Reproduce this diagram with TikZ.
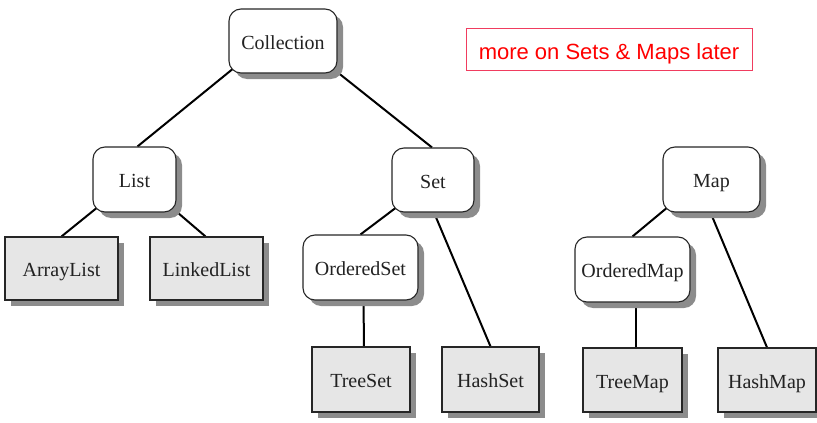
\documentclass[tikz,border=0pt]{standalone}
\usepackage{fontspec}
\setmainfont{Liberation Serif}
\newfontfamily\arialfont{Liberation Sans}
\usetikzlibrary{shadows,backgrounds}
\definecolor{shadowgray}{HTML}{8C8C8C}
\definecolor{boxgray}{HTML}{E6E6E6}
\definecolor{txtgray}{HTML}{222222}
\definecolor{notered}{rgb}{1,0,0}
\definecolor{noteborder}{RGB}{240,60,95}
\begin{document}
\begin{tikzpicture}[x=1pt,y=-1pt,
  base/.style={draw=black!85, line width=1.1pt, inner sep=0pt, text=txtgray,
    font=\fontsize{20}{22}\selectfont, text height=18pt, text depth=2pt,
    drop shadow={shadow xshift=6pt, shadow yshift=-6pt, fill=shadowgray, opacity=1}},
  iface/.style={base, fill=white, rounded corners=12pt},
  cls/.style={base, fill=boxgray},
  conn/.style={line width=2pt, black}]
\useasboundingbox (0,0) rectangle (817,423);
% interfaces
\node[iface, minimum width=108pt, minimum height=64pt] (coll) at (283,41) {Collection};
\node[iface, minimum width=83pt, minimum height=65pt] (list) at (134.5,179.5) {List};
\node[iface, minimum width=82pt, minimum height=64pt] (set) at (433,180) {Set};
\node[iface, minimum width=97pt, minimum height=65pt] (map) at (711.5,179.5) {Map};
\node[iface, minimum width=115pt, minimum height=65pt] (oset) at (360.5,267.5) {OrderedSet};
\node[iface, minimum width=115pt, minimum height=65pt] (omap) at (632.5,269.5) {OrderedMap};
% classes
\node[cls, minimum width=113pt, minimum height=63pt] (alist) at (61.5,268.5) {ArrayList};
\node[cls, minimum width=113pt, minimum height=63pt] (llist) at (206.5,268.5) {LinkedList};
\node[cls, minimum width=98pt, minimum height=65pt] (tset) at (361,379.5) {TreeSet};
\node[cls, minimum width=97pt, minimum height=65pt] (hset) at (490.5,379.5) {HashSet};
\node[cls, minimum width=99pt, minimum height=64pt] (tmap) at (632.5,380) {TreeMap};
\node[cls, minimum width=98pt, minimum height=64pt] (hmap) at (767,380) {HashMap};
% note
\node[draw=noteborder, line width=1pt, minimum width=286pt, minimum height=42pt, inner sep=0pt,
  text=notered, font=\arialfont\fontsize{22}{24}\selectfont, text height=20pt, text depth=1pt] (note) at (609,49.5) {more on Sets \& Maps later};
% connectors
\begin{pgfonlayer}{background}
\draw[conn] ([shift={(6,-6)}]coll.south west) -- ([xshift=3pt]list.north);
\draw[conn] ([shift={(-6,-6)}]coll.south east) -- ([xshift=-1pt]set.north);
\draw[conn] ([shift={(6,-6)}]list.south west) -- (alist.north);
\draw[conn] ([shift={(-6,-6)}]list.south east) -- ([xshift=-1pt]llist.north);
\draw[conn] ([shift={(6,-6)}]set.south west) -- (oset.north);
\draw[conn] ([xshift=1pt]set.south) -- (hset.north);
\draw[conn] ([xshift=3pt]oset.south) -- ([xshift=3pt]tset.north);
\draw[conn] ([shift={(6,-6)}]map.south west) -- (omap.north);
\draw[conn] ([xshift=-1pt]map.south) -- (hmap.north);
\draw[conn] ([xshift=3pt]omap.south) -- ([xshift=3pt]tmap.north);
\end{pgfonlayer}
\end{tikzpicture}
\end{document}
